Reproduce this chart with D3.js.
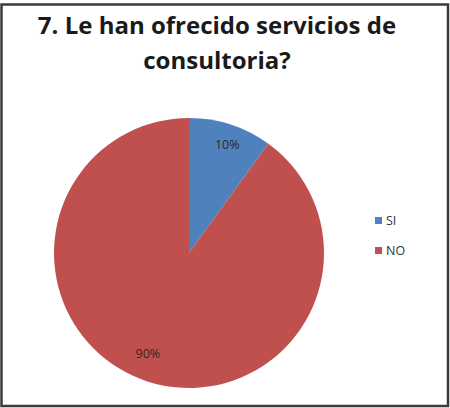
<!DOCTYPE html>
<html><head><meta charset="utf-8">
<script src="https://cdn.jsdelivr.net/npm/d3@7/dist/d3.min.js"></script>
<style>body{margin:0;background:#fff}svg{display:block}</style>
</head><body>
<script>
const categories = ["SI", "NO"];
const values = [10, 90];
const labels = ["10%", "90%"];
const colors = ["#4F81BD", "#C0504D"];
const titleLines = ["7. Le han ofrecido servicios de", "consultoria?"];

const W = 450, H = 408;
const svg = d3.select("body").append("svg").attr("width", W).attr("height", H);
svg.append("rect").attr("x", 1.5).attr("y", 4.5).attr("width", W - 3.5).attr("height", H - 6.5)
  .attr("fill", "#fff").attr("stroke", "#3a3a3a").attr("stroke-width", 2.5);

svg.append("text").attr("text-anchor", "middle")
  .style("font-family", "'Open Sans', 'Liberation Sans', sans-serif").style("font-weight", "bold")
  .style("font-size", "24px").attr("fill", "#1a1a1a")
  .selectAll("tspan").data(titleLines).join("tspan")
  .attr("x", 217).attr("y", (d, i) => 34 + i * 35).text(d => d);

const cx = 189, cy = 253, r = 135;
const pie = d3.pie().sort(null).value(d => d)(values);
const arc = d3.arc().innerRadius(0).outerRadius(r);
const g = svg.append("g").attr("transform", `translate(${cx},${cy})`);
g.selectAll("path").data(pie).join("path").attr("d", arc).attr("fill", (d, i) => colors[i]);

const labelArc = d3.arc().innerRadius(r * 0.82).outerRadius(r * 0.82);
g.selectAll("text.lbl").data(pie).join("text").attr("class", "lbl")
  .attr("transform", (d, i) => {
    const [x, y] = labelArc.centroid(d);
    const off = i === 0 ? [4, -3] : [-7, -5];
    return `translate(${x + off[0]},${y + off[1]})`;
  })
  .attr("text-anchor", "middle").attr("dy", "0.35em")
  .style("font-family", "'Open Sans', 'Liberation Sans', sans-serif").style("font-size", "12.5px")
  .attr("fill", "#2a2a2a").text((d, i) => labels[i]);

const legend = svg.append("g").attr("transform", "translate(375,217)");
const items = legend.selectAll("g").data(categories).join("g")
  .attr("transform", (d, i) => `translate(0,${i * 30})`);
items.append("rect").attr("width", 7).attr("height", 7).attr("fill", (d, i) => colors[i]);
items.append("text").attr("x", 11).attr("y", 4).attr("dy", "0.35em")
  .style("font-family", "'Open Sans', 'Liberation Sans', sans-serif").style("font-size", "12.5px")
  .attr("fill", "#333").text(d => d);
</script>
</body></html>
